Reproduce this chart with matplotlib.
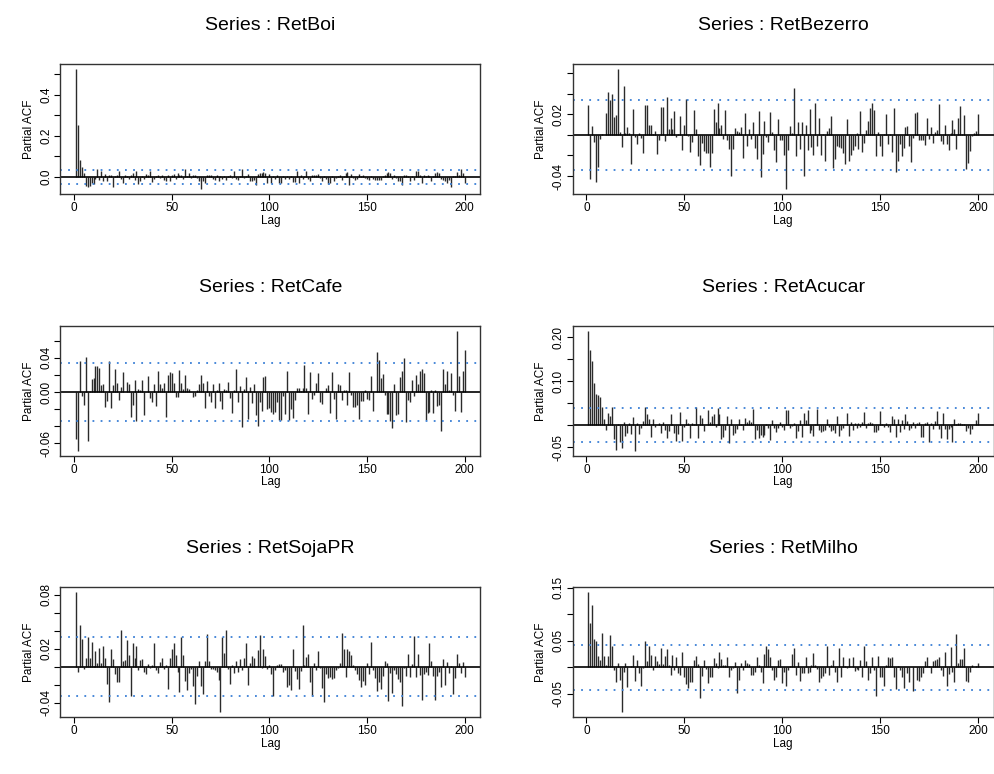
import numpy as np
import matplotlib
matplotlib.use('Agg')
import matplotlib.pyplot as plt

plt.rcParams['font.family'] = ['Liberation Sans', 'DejaVu Sans']

W, H = 994, 774

lags = np.arange(1, 201)

# partial autocorrelations (lags 1..200)
ret_boi = [
    0.525, 0.252, 0.083, 0.051, 0.02, -0.045, -0.048, -0.045, -0.03, -0.035,
    -0.01, 0.04, -0.015, 0.03, -0.02, 0.015, -0.02, 0.008, 0.008, -0.05,
    0.005, 0.01, 0.03, -0.01, -0.03, 0.012, 0.005, -0.01, 0.01, 0.02,
    -0.015, 0.03, -0.035, -0.02, 0.003, -0.01, 0.015, 0.012, 0.032, -0.025,
    -0.01, 0.005, 0.01, -0.005, 0.01, -0.015, -0.02, 0.008, -0.02, 0.01,
    0.015, -0.01, 0.02, 0.008, 0.012, -0.01, 0.04, 0.005, 0.02, -0.003,
    0.012, 0.008, -0.005, -0.02, -0.06, -0.02, -0.03, 0.01, 0.008, 0.01,
    -0.01, -0.015, 0.008, -0.02, 0.003, -0.01, 0.005, -0.015, 0.004, 0.012,
    -0.006, 0.03, -0.008, -0.015, 0.004, 0.04, -0.003, 0.006, 0.015, -0.02,
    -0.02, -0.015, -0.039, 0.015, 0.02, 0.022, 0.025, 0.02, -0.03, 0.015,
    -0.028, 0.005, -0.01, 0.008, -0.028, -0.027, 0.004, -0.008, 0.006, -0.01,
    0.003, -0.025, -0.024, 0.032, -0.027, 0.01, -0.01, 0.005, 0.032, -0.01,
    -0.02, 0.008, 0.012, 0.01, 0.015, -0.005, -0.02, 0.005, -0.008, -0.032,
    -0.03, 0.003, -0.02, -0.005, 0.005, 0.008, -0.015, 0.004, 0.02, 0.025,
    -0.039, 0.015, -0.006, -0.015, -0.01, 0.015, 0.006, 0.01, -0.005, -0.01,
    -0.015, 0.004, -0.01, -0.012, -0.015, -0.014, -0.012, 0.004, 0.01, 0.02,
    0.025, 0.02, -0.01, 0.01, -0.005, -0.02, -0.018, -0.039, 0.012, 0.012,
    0.003, -0.02, 0.004, -0.015, 0.032, 0.032, 0.01, -0.03, 0.01, 0.004,
    0.012, 0.006, -0.02, 0.005, 0.022, 0.025, 0.022, -0.01, -0.015, -0.02,
    -0.03, -0.012, -0.05, 0.003, 0.005, 0.024, 0.01, 0.04, 0.018, -0.027,
]

ret_bezerro = [
    0.029, -0.0425, 0.009, -0.007, -0.046, -0.031, -0.004, 0.001, 0.0, 0.021,
    0.0415, 0.034, 0.04, 0.017, 0.019, 0.064, 0.003, -0.012, 0.047, 0.002,
    0.008, 0.002, -0.028, 0.025, -0.002, -0.009, 0.002, -0.003, -0.018, 0.029,
    0.029, 0.01, 0.01, 0.001, 0.004, -0.019, -0.005, 0.027, 0.027, -0.006,
    0.037, 0.006, 0.016, 0.006, 0.023, -0.002, 0.001, 0.018, -0.015, 0.01,
    0.035, -0.001, -0.017, -0.007, 0.024, 0.006, -0.021, -0.029, -0.008, -0.016,
    -0.018, -0.018, -0.031, -0.018, 0.025, 0.012, 0.031, 0.007, 0.01, -0.004,
    0.024, -0.005, -0.014, -0.04, -0.014, 0.007, 0.004, 0.003, 0.008, -0.022,
    0.021, -0.011, 0.006, -0.004, 0.012, -0.013, -0.023, 0.023, -0.041, -0.019,
    0.013, -0.002, -0.007, 0.022, 0.003, -0.015, -0.026, 0.015, -0.005, -0.005,
    -0.02, -0.053, -0.015, 0.009, 0.002, 0.045, -0.021, 0.012, -0.014, 0.012,
    -0.04, 0.01, -0.015, 0.025, -0.012, -0.02, 0.031, -0.011, 0.016, -0.02,
    0.001, -0.025, 0.004, 0.007, 0.018, -0.032, -0.023, -0.011, -0.012, -0.013,
    -0.018, -0.028, 0.015, -0.025, -0.02, -0.015, -0.011, 0.002, -0.014, 0.023,
    -0.017, -0.008, 0.005, 0.013, 0.026, 0.031, 0.024, -0.021, 0.003, -0.011,
    -0.021, 0.001, 0.02, -0.009, 0.001, -0.017, 0.026, -0.036, -0.025, -0.009,
    -0.021, -0.013, 0.008, 0.009, -0.011, -0.026, -0.003, 0.021, 0.022, -0.005,
    -0.005, -0.005, -0.01, 0.016, -0.004, 0.008, -0.008, 0.003, 0.005, 0.03,
    -0.006, -0.009, 0.01, -0.009, -0.015, 0.002, 0.014, 0.006, -0.014, 0.016,
    0.028, 0.001, 0.019, -0.033, -0.027, -0.016, -0.001, 0.002, 0.004, 0.02,
]

ret_cafe = [
    -0.055, -0.069, 0.036, -0.004, -0.015, 0.041, -0.057, 0.001, 0.015, 0.016,
    0.03, 0.03, 0.028, 0.008, 0.009, -0.017, -0.01, 0.036, -0.018, 0.008,
    0.027, 0.011, -0.009, 0.006, 0.024, 0.0, 0.012, 0.009, -0.029, -0.015,
    0.014, -0.034, 0.004, 0.003, 0.014, -0.027, 0.0, 0.019, -0.007, -0.011,
    0.01, -0.016, 0.025, 0.01, 0.005, 0.011, -0.029, 0.02, 0.024, 0.022,
    0.011, -0.006, -0.006, 0.026, 0.011, 0.004, 0.02, 0.005, 0.004, 0.0,
    -0.006, -0.005, 0.003, 0.01, 0.02, 0.011, -0.019, 0.013, -0.005, -0.011,
    0.009, -0.018, 0.002, 0.011, -0.01, -0.02, 0.004, 0.002, 0.012, -0.007,
    -0.024, 0.003, 0.027, -0.012, 0.007, -0.041, 0.004, 0.018, -0.031, 0.006,
    -0.013, 0.01, -0.027, -0.04, -0.011, -0.022, 0.018, 0.019, -0.02, -0.018,
    -0.023, -0.025, -0.023, -0.012, -0.032, -0.032, -0.005, -0.026, 0.025, -0.032,
    -0.02, -0.03, -0.009, 0.005, 0.005, 0.001, 0.005, 0.032, 0.005, -0.025,
    0.023, -0.008, -0.003, 0.011, 0.022, -0.011, -0.014, 0.0, 0.005, 0.008,
    -0.024, 0.023, -0.008, -0.031, 0.01, 0.008, -0.009, 0.002, 0.002, -0.015,
    0.023, -0.003, -0.017, -0.017, -0.015, -0.031, -0.01, -0.01, 0.003, -0.008,
    -0.009, 0.019, -0.022, 0.0, 0.047, 0.038, 0.017, 0.021, -0.003, -0.025,
    -0.025, -0.034, -0.042, 0.009, -0.027, -0.026, 0.018, 0.025, 0.04, -0.035,
    -0.009, -0.011, 0.014, -0.005, 0.02, 0.01, 0.025, 0.027, 0.022, -0.032,
    -0.024, -0.023, 0.002, -0.024, 0.003, -0.016, -0.015, -0.046, 0.027, 0.01,
    0.025, 0.003, 0.022, -0.003, -0.022, 0.072, 0.019, -0.023, 0.025, 0.049,
]

ret_acucar = [
    0.215, 0.171, 0.145, 0.095, 0.07, 0.068, 0.064, 0.041, 0.014, -0.011,
    0.027, 0.02, 0.041, -0.031, -0.056, 0.003, -0.038, -0.052, 0.008, -0.024,
    -0.017, 0.005, -0.02, 0.018, -0.059, 0.004, -0.02, -0.007, 0.01, 0.041,
    0.026, 0.014, -0.026, 0.014, -0.003, 0.001, 0.006, -0.017, 0.008, -0.01,
    -0.028, -0.014, 0.025, 0.002, -0.017, -0.037, -0.02, 0.031, -0.035, -0.005,
    0.014, 0.006, -0.029, 0.005, 0.003, 0.041, -0.029, 0.023, 0.016, -0.014,
    0.001, 0.034, 0.008, 0.02, 0.025, -0.005, 0.038, 0.026, -0.031, -0.026,
    -0.011, 0.02, -0.041, 0.014, -0.023, -0.017, -0.009, 0.014, 0.002, -0.011,
    0.016, 0.008, 0.012, 0.008, 0.036, -0.032, -0.011, -0.029, -0.022, -0.027,
    -0.022, 0.002, -0.007, -0.033, 0.012, -0.007, -0.015, -0.007, 0.008, -0.005,
    -0.011, 0.034, 0.035, -0.007, -0.002, 0.005, -0.029, -0.014, 0.012, -0.026,
    0.027, 0.011, 0.034, -0.018, -0.011, -0.025, 0.002, 0.037, -0.011, -0.016,
    -0.013, -0.011, 0.014, -0.005, -0.013, -0.011, -0.017, 0.022, -0.024, -0.012,
    -0.007, 0.001, 0.027, -0.024, 0.007, -0.012, 0.005, -0.007, 0.006, -0.003,
    0.008, 0.031, -0.007, 0.006, 0.008, 0.004, -0.016, -0.016, -0.012, 0.032,
    0.002, -0.005, 0.006, -0.003, -0.016, 0.022, 0.013, -0.026, 0.013, -0.016,
    0.011, -0.008, 0.025, 0.009, -0.011, -0.007, 0.007, -0.007, 0.005, 0.007,
    -0.026, -0.026, 0.005, 0.007, -0.039, 0.005, -0.008, 0.009, 0.032, -0.009,
    -0.029, 0.028, -0.009, -0.032, -0.008, -0.003, -0.039, 0.013, 0.002, 0.005,
    0.005, 0.002, 0.002, -0.013, -0.007, -0.019, -0.009, 0.001, 0.012, 0.027,
]

ret_soja_pr = [
    0.083, -0.006, 0.046, 0.031, -0.003, 0.009, 0.033, 0.009, 0.027, 0.001,
    0.017, 0.004, 0.021, 0.004, 0.023, 0.009, -0.019, -0.039, 0.02, 0.008,
    -0.008, -0.017, -0.017, 0.041, 0.006, 0.007, 0.029, 0.013, -0.033, 0.026,
    0.009, 0.023, -0.004, 0.007, 0.008, -0.006, -0.008, 0.003, -0.002, 0.002,
    0.026, -0.004, -0.007, 0.005, 0.01, -0.003, 0.002, -0.025, 0.009, 0.02,
    0.026, 0.013, -0.006, -0.028, 0.033, 0.013, -0.016, -0.026, -0.007, -0.003,
    -0.022, -0.042, -0.011, 0.006, -0.022, -0.03, 0.006, 0.036, 0.006, -0.003,
    -0.003, -0.004, -0.006, -0.015, -0.051, 0.033, 0.015, 0.041, -0.003, -0.019,
    0.002, -0.007, 0.006, -0.006, 0.008, -0.004, 0.01, 0.026, -0.02, 0.004,
    0.012, 0.01, 0.0, 0.018, 0.035, -0.002, 0.019, 0.012, -0.003, 0.002,
    -0.008, -0.033, -0.004, 0.002, 0.003, 0.003, -0.006, -0.004, -0.023, -0.021,
    -0.026, 0.02, -0.005, -0.014, -0.025, -0.005, 0.046, 0.002, 0.011, 0.014,
    -0.017, -0.033, 0.004, -0.004, 0.017, -0.002, -0.024, -0.039, -0.008, -0.013,
    -0.012, -0.014, -0.013, -0.004, -0.002, 0.004, 0.037, 0.019, -0.012, 0.019,
    0.017, 0.013, 0.002, -0.004, -0.008, -0.015, -0.023, -0.016, -0.021, 0.004,
    -0.008, 0.027, -0.004, -0.013, -0.027, -0.017, -0.025, -0.011, 0.006, 0.004,
    -0.038, -0.007, -0.029, -0.004, -0.008, -0.014, -0.017, -0.044, -0.002, -0.01,
    0.014, -0.012, 0.003, 0.034, -0.012, 0.014, -0.009, -0.037, -0.008, -0.006,
    -0.009, 0.026, 0.006, -0.01, -0.037, -0.011, -0.006, -0.023, 0.008, -0.021,
    0.005, -0.007, 0.001, -0.03, -0.013, 0.014, 0.004, -0.007, 0.005, -0.012,
]

ret_milho = [
    0.142, 0.083, 0.118, 0.053, 0.05, 0.021, 0.014, 0.065, 0.021, 0.004,
    0.021, 0.061, 0.04, -0.006, -0.027, 0.009, -0.023, -0.085, -0.009, 0.008,
    -0.038, 0.0, 0.002, 0.024, -0.026, 0.014, -0.01, -0.036, -0.002, 0.05,
    0.012, 0.04, 0.023, -0.006, 0.021, 0.012, 0.006, 0.036, 0.006, 0.021,
    0.034, 0.004, -0.015, 0.023, -0.005, 0.019, -0.01, -0.014, 0.029, -0.019,
    -0.031, -0.039, -0.027, -0.027, 0.014, 0.021, 0.006, -0.058, -0.016, 0.014,
    -0.003, -0.03, -0.019, -0.018, 0.017, 0.008, -0.002, 0.029, 0.015, 0.005,
    0.004, 0.019, -0.018, -0.005, -0.002, 0.01, -0.049, -0.023, 0.008, -0.006,
    0.013, 0.008, 0.006, -0.014, -0.014, -0.008, 0.019, 0.004, -0.008, -0.03,
    0.025, 0.04, 0.035, 0.019, -0.005, -0.024, -0.018, 0.014, 0.015, -0.03,
    -0.008, -0.036, -0.005, 0.003, 0.025, 0.037, -0.014, 0.01, -0.026, -0.011,
    -0.01, 0.019, -0.01, -0.008, 0.005, 0.027, 0.005, -0.003, -0.028, -0.021,
    -0.016, -0.01, 0.041, -0.014, 0.004, 0.014, -0.009, -0.028, 0.037, -0.018,
    0.02, 0.003, -0.002, 0.017, 0.001, 0.019, -0.007, -0.003, -0.005, 0.014,
    -0.018, 0.04, 0.011, -0.023, -0.011, 0.02, -0.006, -0.054, 0.021, -0.019,
    -0.018, -0.036, 0.004, 0.019, 0.017, 0.02, -0.019, -0.041, 0.003, -0.006,
    -0.019, -0.039, 0.001, -0.011, -0.028, 0.001, -0.044, 0.001, -0.023, -0.026,
    -0.019, -0.011, 0.011, 0.019, 0.003, -0.011, 0.012, 0.014, 0.015, 0.019,
    -0.005, -0.016, 0.028, -0.035, -0.013, 0.038, -0.008, -0.028, 0.063, 0.008,
    0.015, 0.015, 0.036, -0.026, -0.027, -0.008, 0.005, 0.001, 0.003, 0.009,
]

titles = ['Series : RetBoi', 'Series : RetBezerro', 'Series : RetCafe',
          'Series : RetAcucar', 'Series : RetSojaPR', 'Series : RetMilho']
series = [ret_boi, ret_bezerro, ret_cafe, ret_acucar, ret_soja_pr, ret_milho]
conf = [0.035, 0.0337, 0.034, 0.039, 0.0328, 0.042]

yticks = [
    [0.0, 0.1, 0.2, 0.3, 0.4, 0.5],
    [-0.04, -0.02, 0.0, 0.02, 0.04, 0.06],
    [-0.06, -0.04, -0.02, 0.0, 0.02, 0.04, 0.06],
    [-0.05, 0.0, 0.05, 0.10, 0.15, 0.20],
    [-0.04, -0.02, 0.0, 0.02, 0.04, 0.06, 0.08],
    [-0.05, 0.0, 0.05, 0.10, 0.15],
]
ytick_labels = [
    ['0.0', '', '0.2', '', '0.4', ''],
    ['-0.04', '', '', '0.02', '', ''],
    ['-0.06', '', '', '0.00', '', '0.04', ''],
    ['-0.05', '', '', '0.10', '', '0.20'],
    ['-0.04', '', '', '0.02', '', '', '0.08'],
    ['-0.05', '', '0.05', '', '0.15'],
]
xticks = [0, 50, 100, 150, 200]

# panel boxes in pixels
cols = [(60.4, 480.2), (572.7, 993.5)]
rows = [(64, 194.3), (325.7, 456), (587, 717.3)]

fig = plt.figure(figsize=(W / 100, H / 100), dpi=100)

for i, vals in enumerate(series):
    x0, x1 = cols[i % 2]
    y0, y1 = rows[i // 2]
    ax = fig.add_axes([x0 / W, 1 - y1 / H, (x1 - x0) / W, (y1 - y0) / H])
    vals = np.array(vals)
    ci = conf[i]

    ax.vlines(lags, 0, vals, colors='#2b2b2b', lw=1.0)
    ax.axhline(0, color='black', lw=1.2)
    for c in (ci, -ci):
        ax.axhline(c, color='#3a7fd5', lw=1.3, ls=(0, (1, 3.5)))

    lo = min(vals.min(), -ci)
    hi = max(vals.max(), ci)
    pad = 0.04 * (hi - lo)
    ax.set_ylim(lo - pad, hi + pad)
    ax.set_xlim(1 - 0.04 * 199, 200 + 0.04 * 199)

    ax.set_xticks(xticks)
    ax.set_xticklabels([str(t) for t in xticks])
    ax.set_yticks(yticks[i])
    ax.set_yticklabels(ytick_labels[i], rotation=90, va='center')
    ax.tick_params(direction='out', length=4, width=0.8, labelsize=8.5, pad=2)
    ax.tick_params(axis='x', pad=1.5)
    for s in ax.spines.values():
        s.set_linewidth(1.0)
        s.set_color('#333333')

    ax.set_xlabel('Lag', fontsize=8.5, labelpad=0.5)
    ax.set_ylabel('Partial ACF', fontsize=8.5, labelpad=4)

    fig.text((x0 + x1) / 2 / W, 1 - (y0 - 34) / H, titles[i],
             ha='center', va='baseline', fontsize=14)

fig.savefig('out.png', dpi=100)
